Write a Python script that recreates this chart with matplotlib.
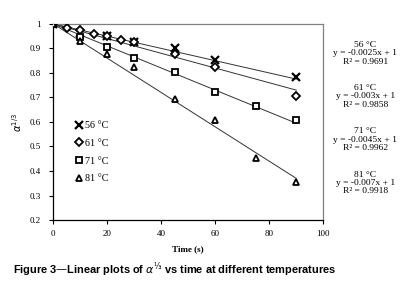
import matplotlib
matplotlib.use("Agg")
import matplotlib.pyplot as plt
import numpy as np

t56 = [0, 10, 20, 30, 45, 60, 90]
y56 = [1.0, 0.962, 0.95, 0.928, 0.901, 0.854, 0.783]
t61 = [0, 5, 10, 15, 20, 25, 30, 45, 60, 90]
y61 = [1.0, 0.982, 0.975, 0.96, 0.952, 0.935, 0.925, 0.879, 0.823, 0.707]
t71 = [0, 10, 20, 30, 45, 60, 75, 90]
y71 = [1.0, 0.945, 0.905, 0.862, 0.805, 0.723, 0.667, 0.607]
t81 = [0, 10, 20, 30, 45, 60, 75, 90]
y81 = [1.0, 0.93, 0.878, 0.823, 0.694, 0.606, 0.454, 0.356]

labels = ["56 °C", "61 °C", "71 °C", "81 °C"]
slopes = [-0.0025, -0.003, -0.0045, -0.007]
r2 = ["0.9691", "0.9858", "0.9962", "0.9918"]
eqs = ["y = -0.0025x + 1", "y = -0.003x + 1", "y = -0.0045x + 1", "y = -0.007x + 1"]

serif = "Liberation Serif"
fig = plt.figure(figsize=(4.04, 2.88), dpi=100)
ax = fig.add_axes([0.132, 0.236, 0.668, 0.681])

series = [(t56, y56, 'x'), (t61, y61, 'D'), (t71, y71, 's'), (t81, y81, '^')]
for (t, y, m), lab, s in zip(series, labels, slopes):
    xl = np.array([0, 90])
    ax.plot(xl, s * xl + 1, color='#333333', lw=0.7, zorder=1)
    if m == 'x':
        ax.plot(t, y, linestyle='none', marker=m, ms=5.5, mew=1.6, color='black',
                label=lab, zorder=3)
    else:
        ax.plot(t, y, linestyle='none', marker=m, ms=5 if m != 'D' else 4.5,
                mew=1.3, mfc='white', mec='black', label=lab, zorder=3)

ax.set_xlim(0, 100)
ax.set_ylim(0.2, 1.0)
ax.set_xticks([0, 20, 40, 60, 80, 100])
ax.set_yticks([0.2, 0.3, 0.4, 0.5, 0.6, 0.7, 0.8, 0.9, 1.0])
ax.set_yticklabels(["0.2", "0.3", "0.4", "0.5", "0.6", "0.7", "0.8", "0.9", "1"])
for lbl in ax.get_xticklabels() + ax.get_yticklabels():
    lbl.set_fontfamily(serif)
    lbl.set_fontsize(6.5)
ax.tick_params(axis='y', direction='out', length=3, width=0.8, pad=6)
ax.tick_params(axis='x', direction='out', length=3, width=0.8, pad=4)
ax.spines['left'].set_color('black')
ax.spines['bottom'].set_color('black')
ax.spines['top'].set_color('#808080')
ax.spines['right'].set_color('#808080')
for sp in ax.spines.values():
    sp.set_linewidth(0.9)

ax.set_xlabel("Time (s)", fontfamily=serif, fontweight='bold', fontsize=6.5, labelpad=5)
ax.set_ylabel(r"$\alpha^{1/3}$", fontsize=7, labelpad=4, fontweight='bold')

leg = ax.legend(loc='upper left', bbox_to_anchor=(0.06, 0.525), frameon=False,
                prop={'family': serif, 'size': 7.3}, handletextpad=0.1,
                handlelength=1.0, labelspacing=0.85, borderaxespad=0)

ys = [0.815, 0.665, 0.515, 0.365]
for lab, eq, r, yy in zip(labels, eqs, r2, ys):
    fig.text(0.904, yy, f"{lab}\n{eq}\nR² = {r}", ha='center', va='center',
             fontfamily=serif, fontsize=6.8, linespacing=1.05)

fig.text(0.032, 0.062, r"Figure 3—Linear plots of $\mathit{\alpha}^{⅓}$ vs time at different temperatures",
         fontfamily="Liberation Sans", fontweight='bold', fontsize=7.9, ha='left', va='center')

fig.savefig("out.png", dpi=100)
